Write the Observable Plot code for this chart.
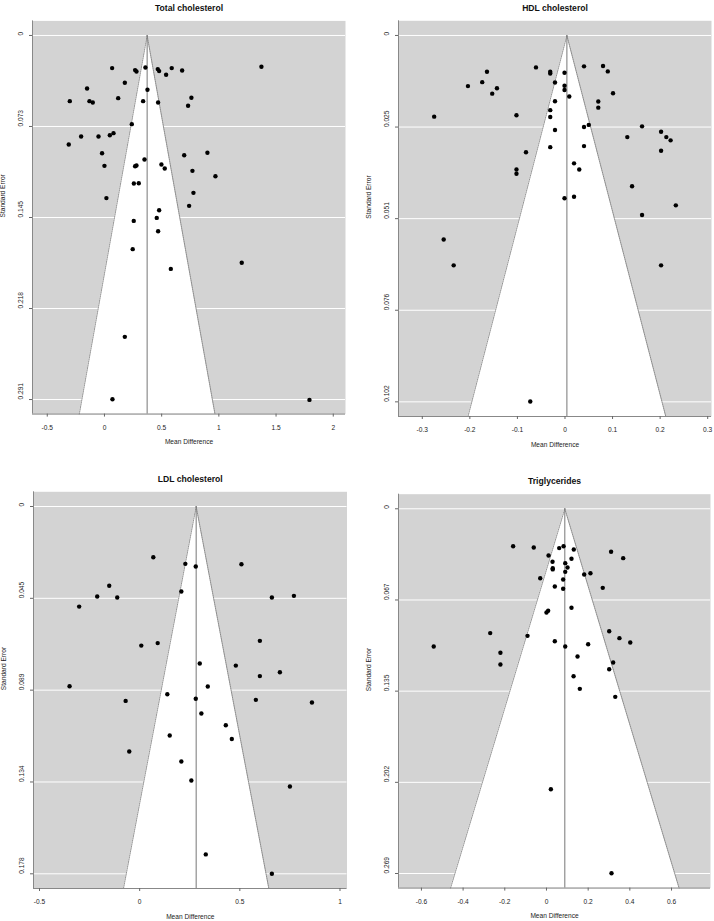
<!DOCTYPE html>
<html><head><meta charset="utf-8">
<script src="https://cdn.jsdelivr.net/npm/d3@7"></script>
<script src="https://cdn.jsdelivr.net/npm/@observablehq/plot@0.6"></script>
<style>
body{margin:0;background:#fff;width:714px;height:921px;position:relative;overflow:hidden;font-family:"Liberation Sans",Arial,Helvetica,sans-serif;}
.panel{position:absolute;}
</style></head><body>
<div id="tl" class="panel" style="left:0;top:0"></div>
<div id="tr" class="panel" style="left:357px;top:0"></div>
<div id="bl" class="panel" style="left:0;top:460px"></div>
<div id="br" class="panel" style="left:357px;top:460px"></div>
<script>
// ---- Total cholesterol ----
const tcMd = [0.067,0.268,0.280,0.358,0.466,0.478,0.539,0.588,0.679,1.372,0.178,-0.152,0.376,-0.303,-0.131,-0.102,0.120,0.338,0.469,0.760,0.731,0.239,-0.312,-0.204,-0.052,0.047,0.079,-0.021,0.000,0.268,0.280,0.350,0.257,0.300,0.017,0.498,0.527,0.697,0.900,0.769,0.970,0.778,0.740,0.478,0.457,0.256,0.469,0.247,1.200,0.580,0.178,0.070,1.792];
const tcSe = [0.0261,0.0277,0.0288,0.0256,0.0269,0.0285,0.0314,0.0261,0.0280,0.0250,0.0378,0.0424,0.0434,0.0525,0.0525,0.0536,0.0501,0.0525,0.0536,0.0498,0.0562,0.0709,0.0871,0.0807,0.0807,0.0797,0.0781,0.0941,0.1042,0.1045,0.1039,0.0991,0.1183,0.1181,0.1300,0.1031,0.1063,0.0957,0.0938,0.1082,0.1125,0.1258,0.1362,0.1397,0.1458,0.1482,0.1565,0.1708,0.1817,0.1866,0.2409,0.2908,0.2913];
const tcEst = 0.373;
const tcXTicks = [-0.5,0,0.5,1,1.5,2];
const tcYLabels = ["0","0.073","0.145","0.218","0.291"];
const tcSeMax = 0.291;

// ---- HDL cholesterol ----
const hdlMd = [-0.275,-0.204,-0.174,-0.164,-0.143,-0.153,-0.061,-0.031,-0.031,-0.001,0.040,0.080,0.090,-0.021,-0.001,-0.001,0.009,0.101,-0.021,0.070,0.070,-0.031,-0.031,-0.102,-0.021,0.040,0.050,0.162,0.131,0.202,0.213,0.222,0.202,-0.031,0.040,-0.082,-0.102,-0.102,0.019,0.030,0.141,-0.001,0.019,0.233,0.162,-0.255,-0.234,0.202,-0.073];
const hdlSe = [0.0226,0.0141,0.0130,0.0101,0.0147,0.0162,0.0089,0.0101,0.0106,0.0104,0.0086,0.0085,0.0100,0.0131,0.0140,0.0152,0.0170,0.0161,0.0183,0.0184,0.0201,0.0208,0.0227,0.0222,0.0263,0.0255,0.0249,0.0253,0.0283,0.0268,0.0283,0.0292,0.0321,0.0311,0.0308,0.0325,0.0373,0.0385,0.0356,0.0373,0.0420,0.0453,0.0449,0.0473,0.0500,0.0568,0.0640,0.0640,0.1019];
const hdlEst = 0.004;
const hdlXTicks = [-0.3,-0.2,-0.1,0,0.1,0.2,0.3];
const hdlYLabels = ["0","0.025","0.051","0.076","0.102"];
const hdlSeMax = 0.102;

// ---- LDL cholesterol ----
const ldlMd = [0.068,0.228,0.280,0.508,-0.152,-0.212,-0.112,-0.302,0.208,0.660,0.770,0.008,0.090,0.600,0.300,0.480,0.600,0.700,-0.350,0.340,-0.070,0.138,0.280,0.580,0.860,0.308,0.430,0.150,0.460,-0.052,0.208,0.258,0.750,0.330,0.660];
const ldlSe = [0.0246,0.0278,0.0291,0.0280,0.0384,0.0436,0.0441,0.0485,0.0412,0.0441,0.0433,0.0674,0.0662,0.0651,0.0761,0.0771,0.0822,0.0803,0.0871,0.0872,0.0942,0.0910,0.0932,0.0937,0.0950,0.1003,0.1060,0.1110,0.1127,0.1187,0.1236,0.1328,0.1357,0.1686,0.1780];
const ldlEst = 0.282;
const ldlXTicks = [-0.5,0,0.5,1];
const ldlYLabels = ["0","0.045","0.089","0.134","0.178"];
const ldlSeMax = 0.178;

// ---- Triglycerides ----
const tgMd = [-0.160,-0.061,0.061,0.082,0.131,0.010,0.029,0.030,0.030,0.090,0.101,0.120,0.090,-0.030,0.181,0.211,0.080,0.040,0.080,0.120,0.000,0.008,-0.270,-0.091,0.040,0.090,0.200,-0.221,-0.221,0.149,0.130,0.160,0.310,0.368,0.270,0.301,0.350,0.402,-0.541,0.320,0.301,0.330,0.021,0.312];
const tgSe = [0.0276,0.0285,0.0290,0.0276,0.0300,0.0344,0.0391,0.0438,0.0447,0.0401,0.0433,0.0369,0.0465,0.0512,0.0485,0.0475,0.0521,0.0573,0.0590,0.0730,0.0765,0.0752,0.0917,0.0937,0.0977,0.1016,0.0999,0.1062,0.1148,0.1089,0.1235,0.1328,0.0317,0.0364,0.0583,0.0903,0.0954,0.0986,0.1016,0.1134,0.1183,0.1387,0.2068,0.2688];
const tgEst = 0.088;
const tgXTicks = [-0.6,-0.4,-0.2,0,0.2,0.4,0.6];
const tgYLabels = ["0","0.067","0.135","0.202","0.269"];
const tgSeMax = 0.269;

function funnel({title, md, se, est, xTicks, yLabels, seMax, xDomain, height, mL, mR, mT, mB}) {
  const data = md.map((d, i) => ({md: d, se: se[i]}));
  const yb = seMax * 1.04;
  const yTicks = yLabels.map((_, i) => seMax * i / 4);
  const tri = [{y: 0, x1: est, x2: est}, {y: yb, x1: est - 1.96 * yb, x2: est + 1.96 * yb}];
  const edgeL = [{x: est - 1.96 * yb, y: yb}, {x: est, y: 0}];
  const edgeR = [{x: est, y: 0}, {x: est + 1.96 * yb, y: yb}];
  return Plot.plot({
    width: 357, height,
    marginLeft: mL, marginRight: mR, marginTop: mT, marginBottom: mB,
    x: {domain: xDomain},
    y: {domain: [-0.04 * seMax, yb], reverse: true},
    style: {fontFamily: '"Liberation Sans", Arial, Helvetica, sans-serif', fontSize: "6.6px", color: "#222", background: "transparent", overflow: "visible"},
    marks: [
      Plot.frame({fill: "#d3d3d3", stroke: null}),
      Plot.ruleY(yTicks, {stroke: "white", strokeWidth: 1}),
      Plot.areaX(tri, {y: "y", x1: "x1", x2: "x2", fill: "white"}),
      Plot.line(edgeL, {x: "x", y: "y", stroke: "#777", strokeWidth: 0.8, strokeDasharray: "1.2,1"}),
      Plot.line(edgeR, {x: "x", y: "y", stroke: "#777", strokeWidth: 0.8, strokeDasharray: "1.2,1"}),
      Plot.ruleX([{x: est, y1: 0, y2: yb}], {x: "x", y1: "y1", y2: "y2", stroke: "#777", strokeWidth: 1}),
      Plot.ruleY([yb], {stroke: "#888", strokeWidth: 1}),
      Plot.ruleX([xDomain[0]], {stroke: "#888", strokeWidth: 1}),
      Plot.axisX({ticks: xTicks, tickSize: 3, tickPadding: 8, tickFormat: d => String(d), label: null, stroke: "#666", fill: "#222"}),
      Plot.axisY({ticks: yTicks, tickSize: 3, tickFormat: () => "", label: null, stroke: "#666"}),
      Plot.text(yTicks, {y: d => d, frameAnchor: "left", dx: -11.3, rotate: -90, text: (d, i) => yLabels[i], fill: "#222"}),
      Plot.dot(data, {x: "md", y: "se", r: 2.2, fill: "black", stroke: null}),
      Plot.text([title], {text: d => d, frameAnchor: "top", dy: -16, fontWeight: "bold", fontSize: 8.6, fill: "#111"}),
      Plot.text(["Mean Difference"], {text: d => d, frameAnchor: "bottom", dy: 30, fill: "#222"}),
      Plot.text(["Standard Error"], {text: d => d, frameAnchor: "left", dx: -29.5, rotate: -90, fill: "#222"})
    ]
  });
}

document.getElementById("tl").append(funnel({title: "Total cholesterol", md: tcMd, se: tcSe, est: tcEst, xTicks: tcXTicks, yLabels: tcYLabels, seMax: tcSeMax, xDomain: [-0.629, 2.107], height: 460, mL: 32, mR: 12, mT: 20.4, mB: 46.4}));
document.getElementById("tr").append(funnel({title: "HDL cholesterol", md: hdlMd, se: hdlSe, est: hdlEst, xTicks: hdlXTicks, yLabels: hdlYLabels, seMax: hdlSeMax, xDomain: [-0.350, 0.308], height: 460, mL: 41, mR: 3, mT: 20.3, mB: 44}));
document.getElementById("bl").append(funnel({title: "LDL cholesterol", md: ldlMd, se: ldlSe, est: ldlEst, xTicks: ldlXTicks, yLabels: ldlYLabels, seMax: ldlSeMax, xDomain: [-0.53, 1.035], height: 461, mL: 33, mR: 10.5, mT: 31.3, mB: 33}));
document.getElementById("br").append(funnel({title: "Triglycerides", md: tgMd, se: tgSe, est: tgEst, xTicks: tgXTicks, yLabels: tgYLabels, seMax: tgSeMax, xDomain: [-0.710, 0.787], height: 461, mL: 41, mR: 4, mT: 33.7, mB: 33.4}));
</script>
</body></html>
